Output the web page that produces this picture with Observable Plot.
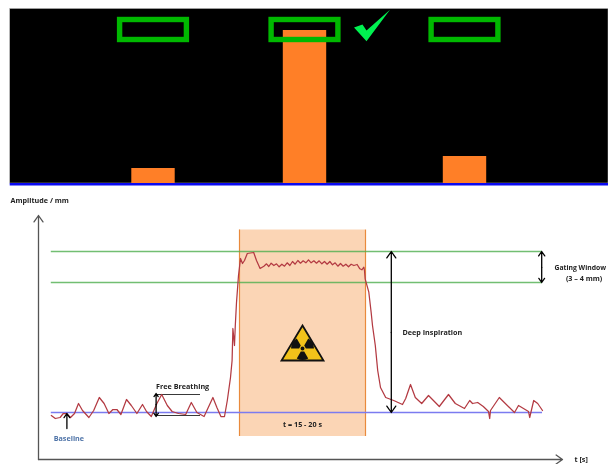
<!DOCTYPE html>
<html><head><meta charset="utf-8">
<script src="https://cdn.jsdelivr.net/npm/d3@7"></script>
<script src="https://cdn.jsdelivr.net/npm/@observablehq/plot@0.6"></script>
<style>html,body{margin:0;padding:0;background:#fff}svg{display:block}#c svg{filter:blur(.35px)}</style>
</head><body><div id="c"></div>
<script>
// Top panel: beam gates
const gateCentre = [153, 304.5, 464.5];
const barSignal = [15, 153, 27];
const barHalfWidth = 21.7;
const gateLow = 143.5, gateHigh = 163.5, gateHalfWidth = 33.4;

// Bottom panel: respiratory trace (t in s, amplitude in mm)
const traceT = [1.6,2.1,2.7,3.1,3.5,4,4.5,5,5.5,6.3,6.9,7.6,8.2,8.8,9.3,9.8,10.3,11,11.6,12.3,13,13.5,14.1,14.8,15.4,16.1,16.7,17.5,18.4,19.1,19.8,20.7,21.8,22.3,22.8,23.25,23.6,24,24.2,24.3,24.5,24.6,24.75,25,25.25,25.5,25.75,26.1,26.9,27.25,27.7,
28.17,28.5,28.79,29.08,29.42,29.75,30.08,30.42,30.75,31.08,31.42,31.75,32.08,32.42,32.75,33.08,33.42,33.75,34.08,34.42,34.75,35.08,35.42,35.75,36.08,36.42,36.75,37.08,37.42,37.75,38.08,38.42,38.75,39.08,39.42,39.83,40.17,40.42,40.67,40.75,
40.83,41.29,41.58,41.75,42.1,42.4,42.75,43.4,44.4,45.5,45.9,46.5,47.1,47.9,48.75,50.1,51.25,52.1,53.25,53.9,54.25,54.9,55.6,56.25,56.4,56.5,57.6,58.1,59.5,60,61.25,61.4,61.9,62.4,63];
const traceA = [-.3,-.6,-.5,-.1,-.1,-.5,-.1,.9,.2,-.5,.2,1.5,.9,-.1,.3,.3,-.2,1.3,.7,-.1,.8,.1,-.4,.9,1.8,.7,.1,-.1,-.2,1,0,-.4,1.5,.5,-.4,-.4,1.2,3.5,5.2,8.4,6.7,8.7,11,13.7,15.4,14.9,15.2,15.9,16,15.2,14.4,
14.63,14.87,14.6,14.93,14.7,14.87,14.57,14.83,14.63,14.97,14.7,15.1,14.83,15.2,14.93,15.17,14.97,15.27,14.97,15.17,14.93,15.17,14.87,15.1,14.83,15.1,14.77,14.97,14.63,14.9,14.63,14.83,14.57,14.83,14.7,14.8,14.37,14.27,14.53,14.2,
13.37,12.03,10.03,8.7,6.7,4.2,2.5,1.5,1.2,.8,1.4,2.8,1.5,.9,1.7,.6,1.8,.9,.4,1.2,.9,1,.6,.1,-.6,.2,1.5,1.1,0,.7,.1,-.5,1.2,.9,.2];
const trace = traceT.map((t, i) => ({t, a: traceA[i]}));

const gatingLevels = [16.1, 13];
const baselineLevel = 0;
const lineStart = 1.6, lineEnd = 63;
const beamStart = 25.125, beamEnd = 40.875, beamTop = 18.25, beamBottom = -2.4;

const arrows = [
  {x1: 0, y1: -4.7, x2: 0, y2: 19.7, c: "#555"},
  {x1: 0, y1: -4.7, x2: 65.5, y2: -4.7, c: "#555"},
  {x1: 44.1, y1: 8, x2: 44.1, y2: 16.1, c: "#000"},
  {x1: 44.1, y1: 8, x2: 44.1, y2: 0, c: "#000"},
  {x1: 62.9, y1: 14.5, x2: 62.9, y2: 16.1, c: "#000"},
  {x1: 62.9, y1: 14.5, x2: 62.9, y2: 13, c: "#000"},
  {x1: 14.7, y1: .8, x2: 14.7, y2: 1.9, c: "#000"},
  {x1: 14.7, y1: .8, x2: 14.7, y2: -.4, c: "#000"},
  {x1: 3.55, y1: -1.6, x2: 3.55, y2: -.1, c: "#000"}
];
const breathLimits = [{a: 1.8}, {a: -.3}];
const startLabels = [
  {t: -3.5, a: 21.2, s: "Amplitude / mm", c: "#222"},
  {t: 14.7, a: 2.6, s: "Free Breathing", c: "#222"},
  {t: 1.9, a: -2.6, s: "Baseline", c: "#4f74a8"},
  {t: 45.5, a: 8, s: "Deep Inspiration", c: "#222"},
  {t: 67, a: -4.7, s: "t [s]", c: "#222"}
];
const edgeLabels = [
  {t: 64.5, a: 14.5, s: "Gating Window", c: "#222"}
];
const middleLabels = [
  {t: 68.2, a: 13.4, s: "(3 – 4 mm)", c: "#222"},
  {t: 33, a: -1.2, s: "t = 15 - 20 s", c: "#222"}
];

const checkSymbol = {draw(ctx, size) {
  const k = Math.sqrt(size) / 20;
  const p = [[-16.5,2],[-8,-1],[-4,5],[19.5,-15.7],[-4,15.7]];
  p.forEach(([x, y], i) => i ? ctx.lineTo(x*k, y*k) : ctx.moveTo(x*k, y*k));
  ctx.closePath();
}};
const triangleSymbol = {draw(ctx, size) {
  const k = Math.sqrt(size) / 20;
  ctx.moveTo(0, -17*k); ctx.lineTo(21*k, 18*k); ctx.lineTo(-21*k, 18*k); ctx.closePath();
}};
const trefoilSymbol = {draw(ctx, size) {
  const k = Math.sqrt(size) / 20;
  const R = 11.5*k, r = 3.4*k;
  [-150, -30, 90].forEach(deg => {
    const a0 = (deg-30)*Math.PI/180, a1 = (deg+30)*Math.PI/180;
    ctx.moveTo(r*Math.cos(a0), r*Math.sin(a0));
    ctx.lineTo(R*Math.cos(a0), R*Math.sin(a0));
    ctx.arc(0, 0, R, a0, a1);
    ctx.lineTo(r*Math.cos(a1), r*Math.sin(a1));
    ctx.closePath();
  });
  ctx.moveTo(2*k, 0); ctx.arc(0, 0, 2*k, 0, 2*Math.PI);
}};

const bars = gateCentre.map((c, i) => ({c, v: barSignal[i]}));

const topPanel = Plot.plot({
  width: 608, height: 186, margin: 0,
  style: {background: "#fff"},
  x: {domain: [0, 608], range: [0, 608], axis: null},
  y: {domain: [183, -3], range: [0, 186], axis: null},
  marks: [
    Plot.rect([0], {x1: 9.7, x2: 608, y1: 174.5, y2: 0, fill: "#000", stroke: "#bbb", strokeWidth: .5}),
    Plot.rect(bars, {x1: d => d.c - barHalfWidth, x2: d => d.c + barHalfWidth, y1: 0, y2: "v", fill: "#ff7f27"}),
    Plot.rect(gateCentre, {x1: d => d - gateHalfWidth, x2: d => d + gateHalfWidth, y1: gateLow, y2: gateHigh, fill: "none", stroke: "#00b800", strokeWidth: 5.4}),
    Plot.dot([0], {x: 370, y: 158, r: 20 / Math.sqrt(Math.PI), symbol: checkSymbol, fill: "#00f050", stroke: "none"}),
    Plot.ruleY([0], {x1: 9.7, x2: 608, y: -.7, stroke: "#0a0af0", strokeWidth: 2.4})
  ]
});

const textStyle = {x: "t", y: "a", text: "s", fill: "c", fontFamily: "Open Sans", fontWeight: "bold", fontSize: 7.2};

const bottomPanel = Plot.plot({
  width: 608, height: 278, margin: 0,
  style: {background: "#fff"},
  x: {domain: [-4.75, 71.25], range: [0, 608], axis: null},
  y: {domain: [22.6, -5.2], range: [0, 278], axis: null},
  marks: [
    Plot.rect([0], {x1: beamStart, x2: beamEnd, y1: beamBottom, y2: beamTop, fill: "#fbd5b5"}),
    Plot.ruleX([beamStart, beamEnd], {y1: beamBottom, y2: beamTop, stroke: "#e98a3c", strokeWidth: 1.2}),
    Plot.ruleY(gatingLevels, {x1: lineStart, x2: lineEnd, stroke: "#4fae4f", strokeOpacity: .8, strokeWidth: 1.5}),
    Plot.ruleY([baselineLevel], {x1: lineStart, x2: lineEnd, stroke: "#7b7bf0", strokeWidth: 1.6}),
    Plot.ruleY(breathLimits, {x1: 14.7, x2: 20.25, y: "a", stroke: "#222", strokeWidth: .9}),
    Plot.line(trace, {x: "t", y: "a", stroke: "#b33a42", strokeWidth: 1.25, strokeLinejoin: "round"}),
    Plot.arrow(arrows, {x1: "x1", y1: "y1", x2: "x2", y2: "y2", stroke: "c", strokeWidth: 1.3, headLength: 9, headAngle: 70, bend: 0}),
    Plot.dot([0], {x: 33, y: 7, r: 20 / Math.sqrt(Math.PI), symbol: triangleSymbol, fill: "#f2c21a", stroke: "#111", strokeWidth: 1.8}),
    Plot.dot([0], {x: 33, y: 6.4, r: 20 / Math.sqrt(Math.PI), symbol: trefoilSymbol, fill: "#111", stroke: "none"}),
    Plot.text(startLabels, {...textStyle, textAnchor: "start"}),
    Plot.text(edgeLabels, {...textStyle, textAnchor: "start", fontSize: 6.8}),
    Plot.text(middleLabels, {...textStyle, textAnchor: "middle"})
  ]
});

document.getElementById("c").append(topPanel, bottomPanel);
</script>
</body></html>
